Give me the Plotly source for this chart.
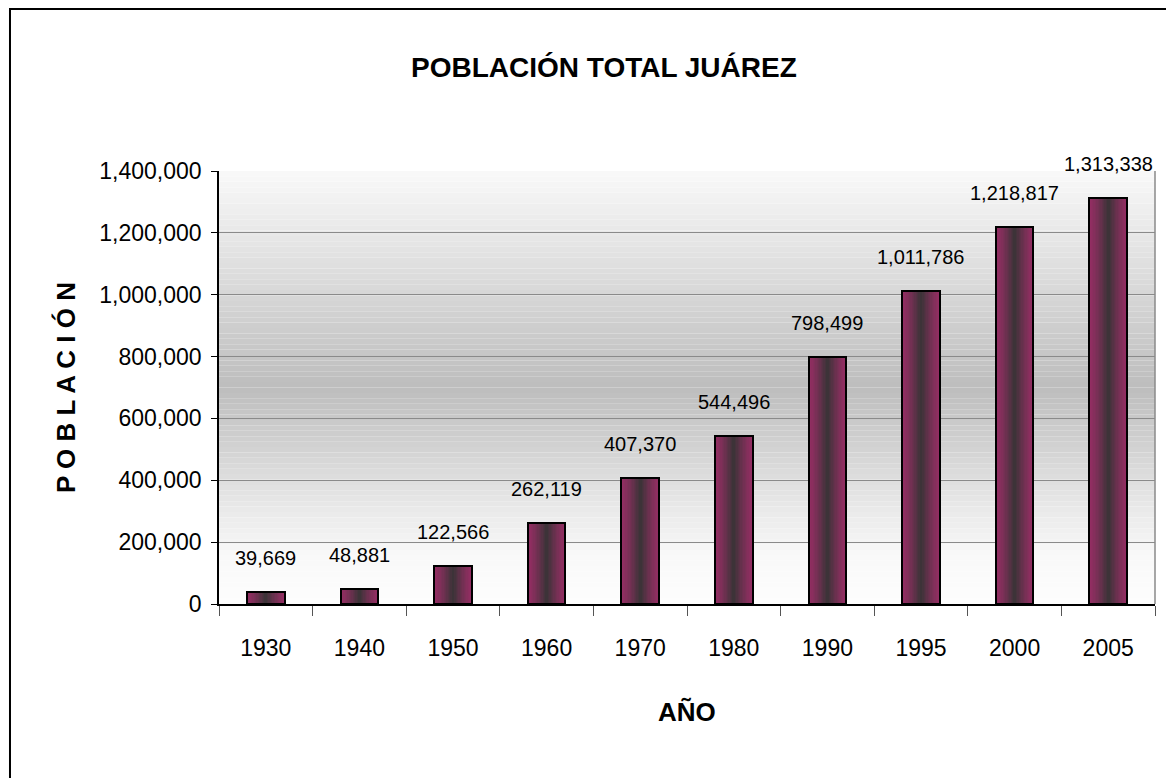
import plotly.graph_objects as go

years = ["1930", "1940", "1950", "1960", "1970", "1980", "1990", "1995", "2000", "2005"]
population = [39669, 48881, 122566, 262119, 407370, 544496, 798499, 1011786, 1218817, 1313338]
y_ticks = [0, 200000, 400000, 600000, 800000, 1000000, 1200000, 1400000]

FONT = "Liberation Sans, Arial, sans-serif"

fig = go.Figure()

# background vertical gradient of plot area
def bg_level(t):
    # t: 0 bottom .. 1 top
    pts = [(0.0, 253), (0.12, 248), (0.5, 189), (1.0, 249)]
    for (a, va), (b, vb) in zip(pts[:-1], pts[1:]):
        if a <= t <= b:
            return va + (vb - va) * (t - a) / (b - a)
    return 250

N = 80
shapes = []
for i in range(N):
    t0 = i / N
    t1 = (i + 1) / N
    g = int(round(bg_level((t0 + t1) / 2)))
    shapes.append(dict(type="rect", xref="x domain", yref="y domain", x0=0, x1=1,
                       y0=t0, y1=t1, fillcolor=f"rgb({g},{g},{g})", line=dict(width=0),
                       layer="below"))

# bars with horizontal gradient: magenta edges -> dark centre
edge = (146, 46, 98)
centre = (52, 52, 52)
K = 14
full_w = 0.4
for k in range(K):
    frac = k / K
    w = full_w * (1 - frac)
    s = frac ** 1.3
    c = tuple(int(round(edge[j] + (centre[j] - edge[j]) * s)) for j in range(3))
    fig.add_trace(go.Bar(x=years, y=population, width=w,
                         marker=dict(color=f"rgb{c}", line=dict(width=0)),
                         hoverinfo="skip", showlegend=False))
# outline
fig.add_trace(go.Bar(x=years, y=population, width=full_w,
                     marker=dict(color="rgba(0,0,0,0)", line=dict(color="black", width=2)),
                     showlegend=False))

annotations = []
for i, v in enumerate(population):
    annotations.append(dict(x=i, y=v, xref="x", yref="y", text=f"{v:,}", showarrow=False,
                            yshift=34, yanchor="middle",
                            font=dict(family=FONT, size=20, color="black")))

annotations += [
    dict(text="<b>POBLACIÓN TOTAL JUÁREZ</b>", xref="paper", yref="paper", x=0.411, y=1.238,
         xanchor="center", yanchor="middle", showarrow=False,
         font=dict(family=FONT, size=28, color="black")),
    dict(text="<b>AÑO</b>", xref="paper", yref="paper", x=0.5, y=-0.249,
         xanchor="center", yanchor="middle", showarrow=False,
         font=dict(family=FONT, size=26, color="black")),
    dict(text="<b>P O B L A C I Ó N</b>", xref="paper", yref="paper", x=-0.164, y=0.5,
         xanchor="center", yanchor="middle", showarrow=False, textangle=-90,
         font=dict(family=FONT, size=26, color="black")),
]

# plot border (grey right edge) and outer chart border
shapes.append(dict(type="line", xref="x domain", yref="y domain", x0=1, x1=1, y0=0, y1=1,
                   line=dict(color="#8a8a8a", width=1.5)))
shapes.append(dict(type="rect", xref="paper", yref="paper", x0=-0.2233, x1=1.08,
                   y0=-0.5, y1=1.3741, line=dict(color="black", width=2)))

fig.update_layout(
    width=1174, height=778,
    margin=dict(l=211, r=27, t=163, b=182),
    paper_bgcolor="white", plot_bgcolor="white",
    barmode="overlay", bargap=0,
    shapes=shapes, annotations=annotations,
    font=dict(family=FONT, size=23, color="black"),
    xaxis=dict(type="category", categoryorder="array", categoryarray=years,
               range=[-0.5, len(years) - 0.5], showgrid=False, showline=True,
               linecolor="black", linewidth=1.5, tickangle=0,
               ticks="outside", tickson="boundaries", ticklen=10, tickcolor="#555",
               ticklabelstandoff=23,
               tickfont=dict(family=FONT, size=23), fixedrange=True),
    yaxis=dict(range=[0, 1400000], tickvals=y_ticks, tickformat=",", showgrid=True,
               gridcolor="#8a8a8a", gridwidth=1, showline=True, linecolor="black", linewidth=1.5,
               ticks="outside", ticklen=6, tickcolor="black", zeroline=False,
               ticklabelstandoff=5,
               tickfont=dict(family=FONT, size=23), fixedrange=True),
)

fig.write_html("out.html")
